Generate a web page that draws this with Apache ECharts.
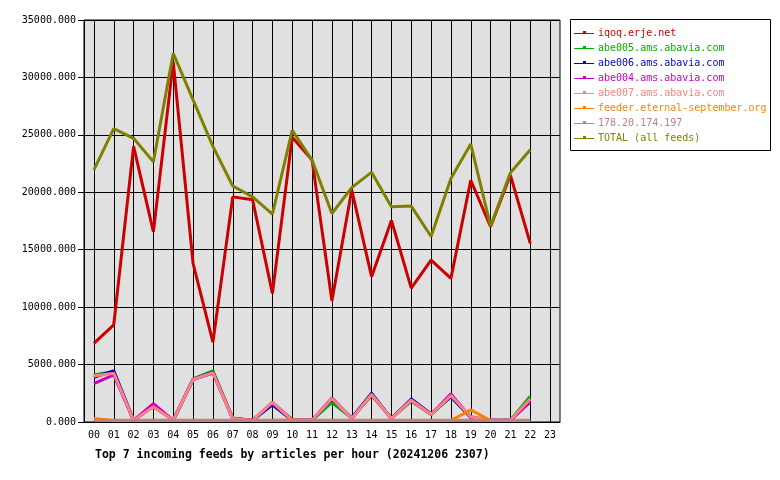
<!DOCTYPE html>
<html>
<head>
<meta charset="utf-8">
<script src="https://cdn.jsdelivr.net/npm/echarts@6/dist/echarts.min.js"></script>
<style>html,body{margin:0;padding:0;background:#fff}#c{width:780px;height:480px}</style>
</head>
<body>
<div id="c"></div>
<script>
const hours = ['00','01','02','03','04','05','06','07','08','09','10','11','12','13','14','15','16','17','18','19','20','21','22','23'];
const yTicks = [0, 5000, 10000, 15000, 20000, 25000, 30000, 35000];
const seriesNames = ['iqoq.erje.net','abe005.ams.abavia.com','abe006.ams.abavia.com','abe004.ams.abavia.com','abe007.ams.abavia.com','feeder.eternal-september.org','178.20.174.197','TOTAL (all feeds)'];
const iqoq   = [6850, 8450, 24000, 16550, 31350, 13800, 6950, 19600, 19350, 11200, 24800, 22800, 10550, 20200, 12650, 17550, 11650, 14100, 12500, 21050, 17000, 21500, 15550, null];
const abe005 = [4100, 4400, 150, 1350, 150, 3750, 4450, 350, 150, 1600, 150, 150, 1700, 350, 2300, 350, 1800, 650, 2200, 450, 150, 150, 2250, null];
const abe006 = [3900, 4450, 150, 1400, 150, 3700, 4350, 300, 150, 1500, 150, 150, 2000, 350, 2500, 300, 2000, 700, 2200, 400, 150, 150, 1800, null];
const abe004 = [3350, 4100, 150, 1600, 150, 3700, 4250, 300, 150, 1700, 200, 150, 2100, 300, 2400, 300, 1900, 650, 2450, 400, 150, 150, 1750, null];
const abe007 = [4000, 4250, 150, 1330, 150, 3700, 4300, 300, 150, 1700, 150, 150, 2050, 300, 2400, 300, 1900, 650, 2300, 450, 150, 150, 2000, null];
const feeder = [300, 130, 130, 130, 130, 130, 130, 130, 130, 130, 180, 130, 130, 130, 130, 130, 130, 130, 130, 1050, 130, 130, 130, null];
const ipFeed = [150, 150, 150, 150, 150, 150, 150, 150, 150, 150, 150, 150, 150, 150, 150, 150, 150, 150, 150, 150, 150, 150, 150, null];
const total  = [21950, 25550, 24700, 22650, 32100, 28050, 24000, 20550, 19600, 18100, 25400, 22800, 18150, 20400, 21750, 18750, 18800, 16150, 21200, 24200, 17050, 21700, 23700, null];
const titleText = 'Top 7 incoming feeds by articles per hour (20241206 2307)';

const colors = ['#cc0000','#00b000','#0000c8','#c800c8','#ff8080','#ff8000','#c08080','#808000'];
const allData = [iqoq, abe005, abe006, abe004, abe007, feeder, ipFeed, total];
const mono = '"DejaVu Sans Mono", "Liberation Mono", monospace';
const iconPath = 'path://M0,0h0.01v0.01h-0.01z M0,6h20v1h-20z M9,4h3v2h-3z M19.99,11.99h0.01v0.01h-0.01z';

const chart = echarts.init(document.getElementById('c'), null, {renderer: 'canvas'});
chart.setOption({
  animation: false,
  backgroundColor: '#ffffff',
  title: {
    text: titleText, left: 90, top: 444,
    textStyle: {fontFamily: mono, fontSize: 11.5, fontWeight: 'bold', color: '#000'}
  },
  graphic: [{
    type: 'rect', left: 570, top: 19, shape: {width: 200, height: 131},
    style: {fill: '#fff', stroke: '#000', lineWidth: 1}, z: -1
  }],
  legend: {
    orient: 'vertical', left: 574, top: 27, itemGap: 3,
    itemWidth: 20, itemHeight: 12, icon: iconPath,
    padding: 0,
    data: seriesNames.map((n, i) => ({name: n, itemStyle: {color: colors[i]}, textStyle: {color: colors[i]}})),
    textStyle: {fontFamily: mono, fontSize: 10, lineHeight: 12, padding: [0, 0, 0, -1]}
  },
  grid: {left: 84, right: 220, top: 20, bottom: 58, show: true, backgroundColor: '#e0e0e0', borderColor: '#000', borderWidth: 1},
  xAxis: {
    type: 'category', data: hours, boundaryGap: true,
    axisLine: {lineStyle: {color: '#000', width: 1}},
    axisTick: {alignWithLabel: true, length: 5, lineStyle: {color: '#000'}},
    axisLabel: {color: '#000', fontFamily: mono, fontSize: 10, margin: 8, interval: 0},
    splitLine: {show: true, alignWithLabel: true, interval: 0, lineStyle: {color: '#000', width: 1}}
  },
  yAxis: {
    type: 'value', min: 0, max: 35000, interval: 5000,
    axisLine: {show: true, lineStyle: {color: '#000'}},
    axisTick: {show: true, length: 6, lineStyle: {color: '#000'}},
    axisLabel: {color: '#000', fontFamily: mono, fontSize: 10, margin: 8, formatter: v => v.toFixed(3)},
    splitLine: {show: true, lineStyle: {color: '#000', width: 1}}
  },
  series: seriesNames.map((n, i) => ({
    name: n, type: 'line', data: allData[i], showSymbol: false, symbol: 'none',
    lineStyle: {color: colors[i], width: 3}, itemStyle: {color: colors[i]},
    z: 2 + i, silent: true
  }))
});
</script>
</body>
</html>
